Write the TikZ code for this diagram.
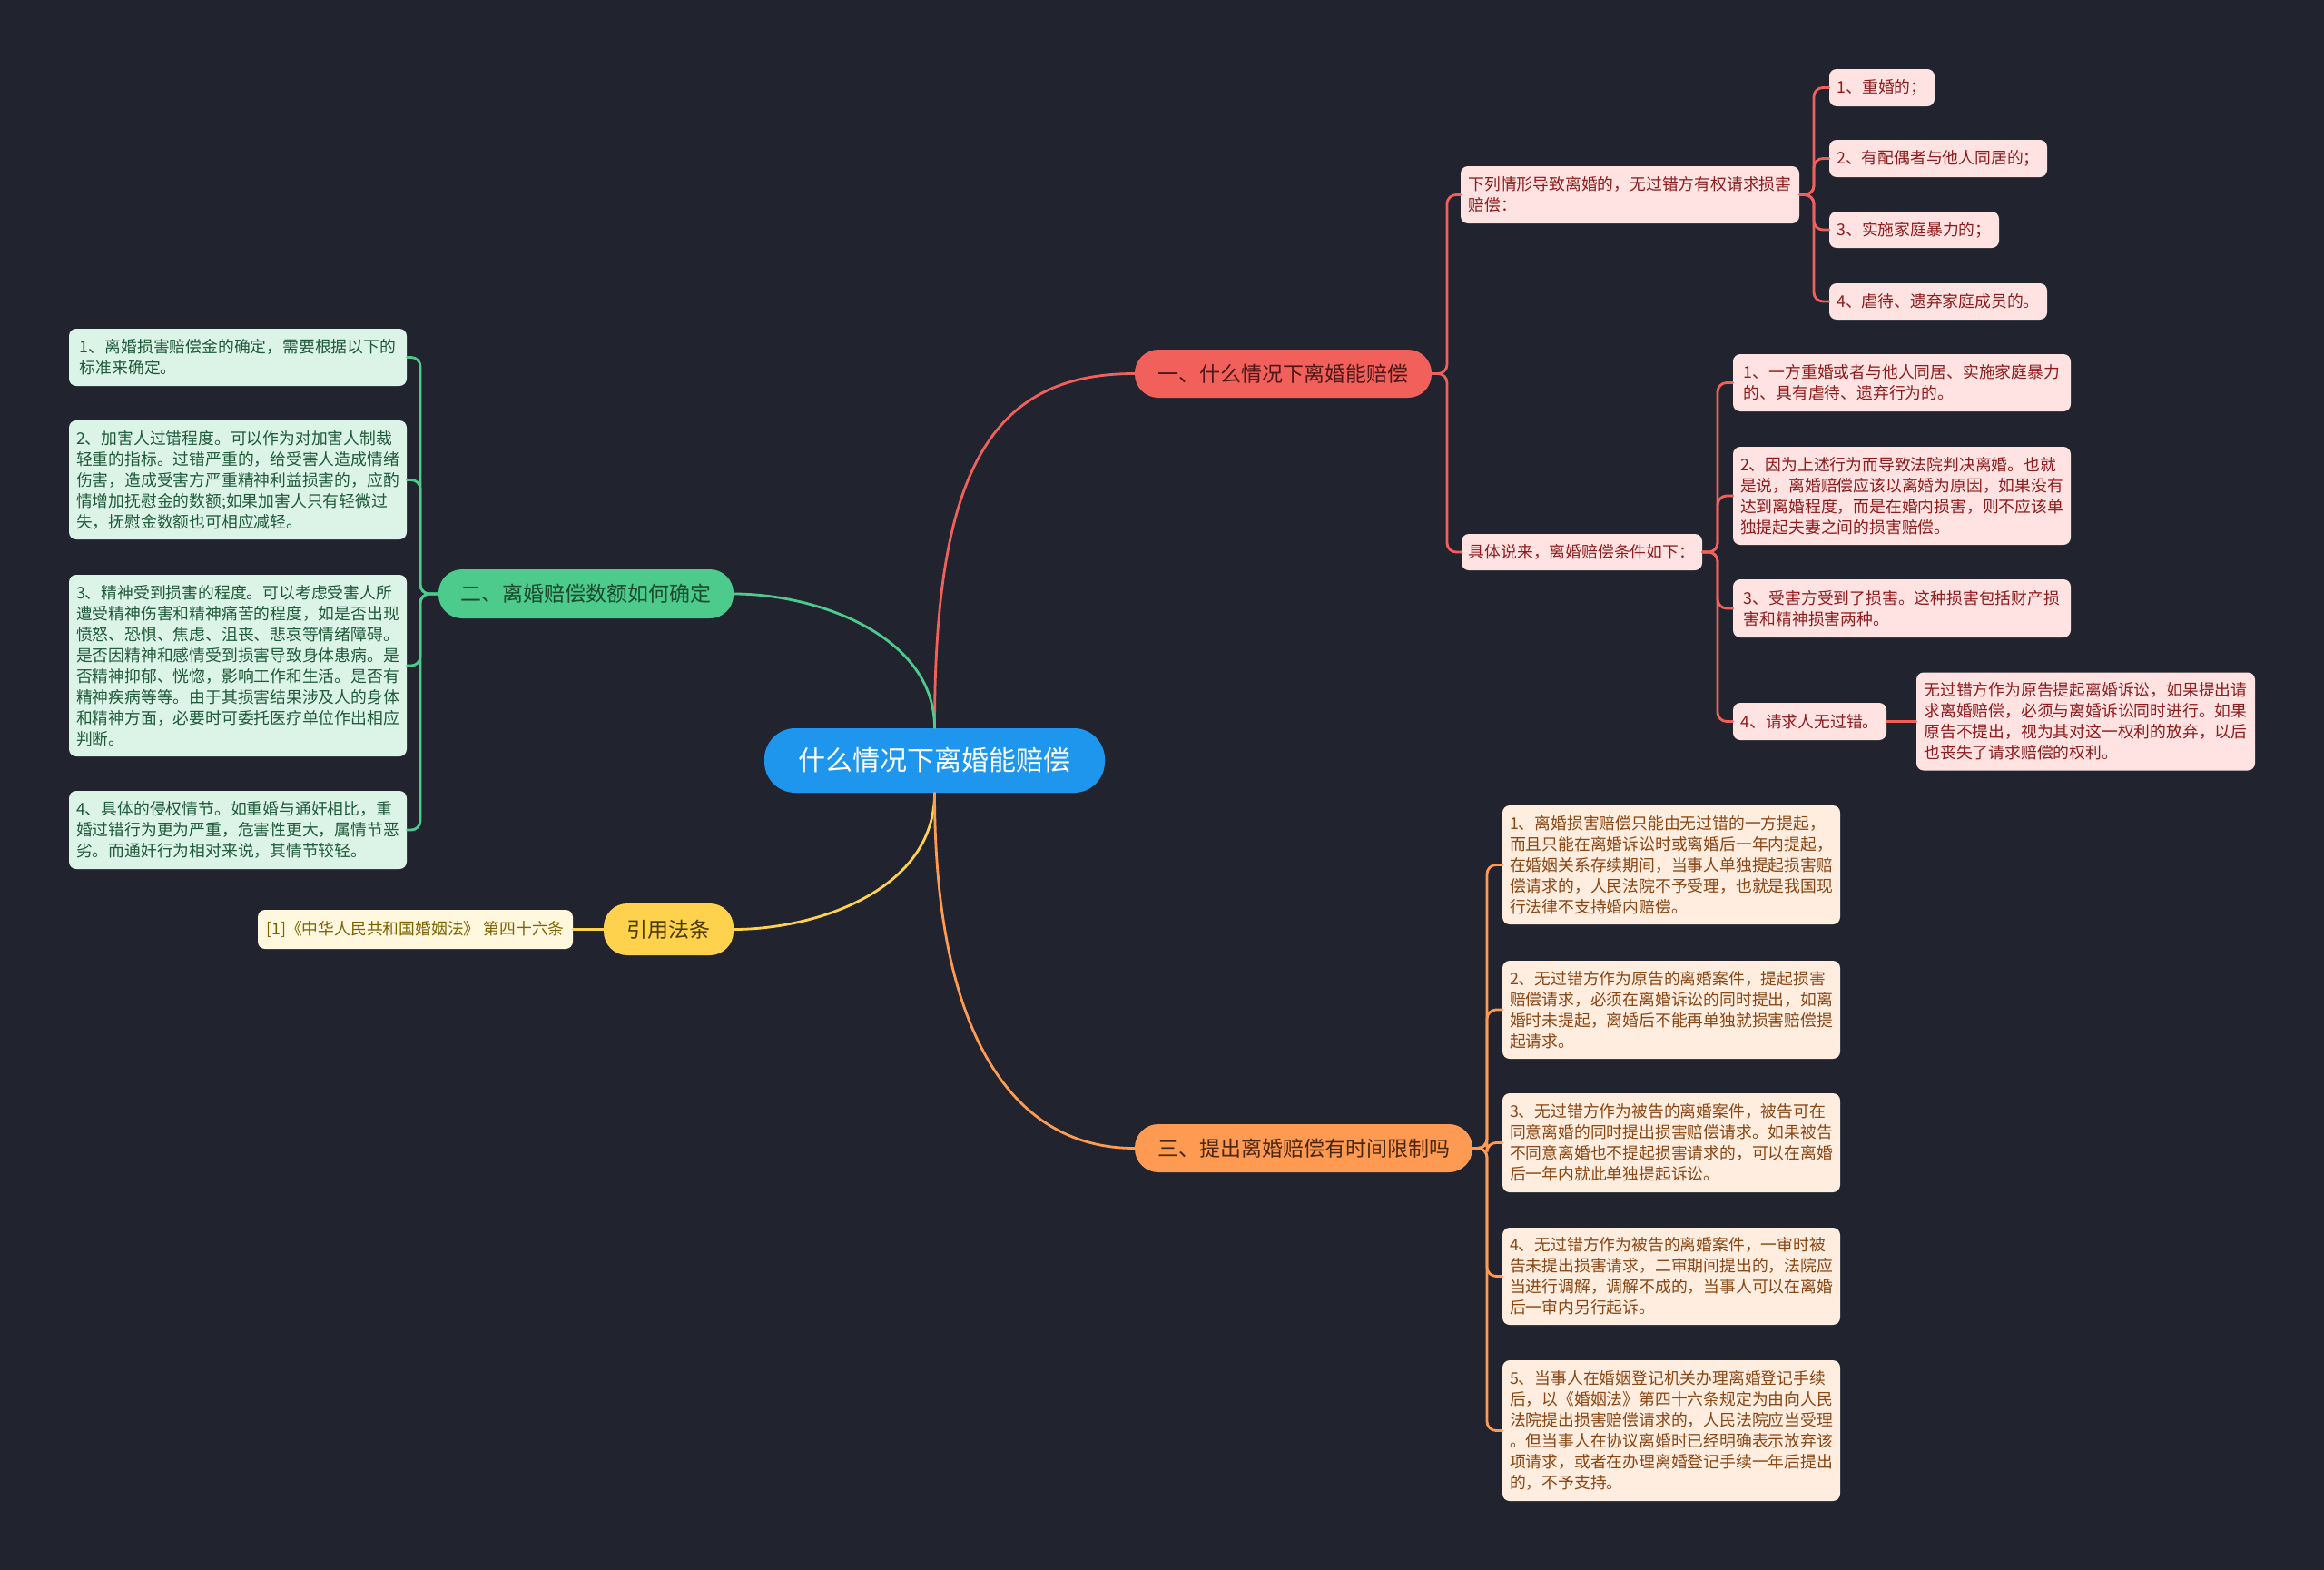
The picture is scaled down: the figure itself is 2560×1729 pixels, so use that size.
\documentclass[tikz,border=0pt]{standalone}
\usepackage{fontspec}
\setmainfont{Noto Sans CJK SC}
\definecolor{bg}{HTML}{21242E}
\definecolor{rootc}{HTML}{1E96EE}
\definecolor{redc}{HTML}{F2605C}
\definecolor{greenc}{HTML}{4CCB8C}
\definecolor{yellowc}{HTML}{FFD24D}
\definecolor{orangec}{HTML}{FF9A52}
\definecolor{redtxt}{HTML}{4F1818}
\definecolor{greentxt}{HTML}{1B4A2F}
\definecolor{yellowtxt}{HTML}{4A3A00}
\definecolor{orangetxt}{HTML}{4A2810}
\definecolor{rleaf}{HTML}{FFE3E3}
\definecolor{rleaftxt}{HTML}{8E1C1C}
\definecolor{gleaf}{HTML}{DCF4E7}
\definecolor{gleaftxt}{HTML}{1F5A39}
\definecolor{yleaf}{HTML}{FFF7DE}
\definecolor{yleaftxt}{HTML}{7C6300}
\definecolor{oleaf}{HTML}{FFEDDF}
\definecolor{oleaftxt}{HTML}{8A4614}
\begin{document}
\begin{tikzpicture}[x=0.5pt,y=-0.5pt,
  rootnode/.style={fill=rootc, text=white, rounded corners=17pt, inner sep=0pt,
    font=\fontsize{15}{18}\selectfont},
  branch/.style={rounded corners=13pt, inner sep=0pt, font=\fontsize{11.5}{14}\selectfont},
  leaf/.style={rounded corners=4pt, align=left, inner sep=0pt,
    font=\fontsize{8.9}{11.5}\selectfont},
  redleaf/.style={leaf, fill=rleaf, text=rleaftxt},
  greenleaf/.style={leaf, fill=gleaf, text=gleaftxt},
  yellowleaf/.style={leaf, fill=yleaf, text=yleaftxt},
  orangeleaf/.style={leaf, fill=oleaf, text=oleaftxt},
  conn/.style={line width=1.4pt, line cap=round},
  redline/.style={conn, draw=redc},
  greenline/.style={conn, draw=greenc},
  yellowline/.style={conn, draw=yellowc},
  orangeline/.style={conn, draw=orangec},
  bracket/.style={rounded corners=5pt}
]
\fill[bg] (0,0) rectangle (2560,1729);
\useasboundingbox (0,0) rectangle (2560,1729);

% root and branches
\node[rootnode, minimum width=187.5pt, minimum height=35.5pt] (root) at (1029.5,837.5) {什么情况下离婚能赔偿};
\node[branch, fill=redc, text=redtxt, minimum width=163.5pt, minimum height=26.5pt] (one) at (1413.5,411.5) {一、什么情况下离婚能赔偿};
\node[branch, fill=greenc, text=greentxt, minimum width=162.5pt, minimum height=27pt] (two) at (645.5,654) {二、离婚赔偿数额如何确定};
\node[branch, fill=yellowc, text=yellowtxt, minimum width=71.5pt, minimum height=28.5pt] (cite) at (736.5,1023.5) {引用法条};
\node[branch, fill=orangec, text=orangetxt, minimum width=186pt, minimum height=26.5pt] (three) at (1436,1264.5) {三、提出离婚赔偿有时间限制吗};

% red leaves
\node[redleaf, minimum width=186.5pt, minimum height=31.5pt] (r1) at (1795.5,214.5) {下列情形导致离婚的，无过错方有权请求损害\\赔偿：};
\node[redleaf, minimum width=58pt, minimum height=20.5pt] (r1a) at (2073,96.5) {1、重婚的；};
\node[redleaf, minimum width=120pt, minimum height=20.5pt] (r1b) at (2135,174.5) {2、有配偶者与他人同居的；};
\node[redleaf, minimum width=93.5pt, minimum height=20pt] (r1c) at (2108.5,253) {3、实施家庭暴力的；};
\node[redleaf, minimum width=120pt, minimum height=20pt] (r1d) at (2135,332) {4、虐待、遗弃家庭成员的。};
\node[redleaf, minimum width=132.5pt, minimum height=20pt] (r2) at (1742.5,608) {具体说来，离婚赔偿条件如下：};
\node[redleaf, minimum width=186pt, minimum height=31.5pt] (r2a) at (2095,421.5) {1、一方重婚或者与他人同居、实施家庭暴力\\的、具有虐待、遗弃行为的。};
\node[redleaf, minimum width=186pt, minimum height=54pt] (r2b) at (2095,546) {2、因为上述行为而导致法院判决离婚。也就\\是说，离婚赔偿应该以离婚为原因，如果没有\\达到离婚程度，而是在婚内损害，则不应该单\\独提起夫妻之间的损害赔偿。};
\node[redleaf, minimum width=186pt, minimum height=32pt] (r2c) at (2095,670) {3、受害方受到了损害。这种损害包括财产损\\害和精神损害两种。};
\node[redleaf, minimum width=84.5pt, minimum height=20.5pt] (r2d) at (1993.5,794.5) {4、请求人无过错。};
\node[redleaf, minimum width=186.5pt, minimum height=54pt] (r2d1) at (2297.5,794.5) {无过错方作为原告提起离婚诉讼，如果提出请\\求离婚赔偿，必须与离婚诉讼同时进行。如果\\原告不提出，视为其对这一权利的放弃，以后\\也丧失了请求赔偿的权利。};

% green leaves
\node[greenleaf, minimum width=186pt, minimum height=31.5pt] (g1) at (262,393.5) {1、离婚损害赔偿金的确定，需要根据以下的\\标准来确定。};
\node[greenleaf, minimum width=186pt, minimum height=65.5pt] (g2) at (262,528.5) {2、加害人过错程度。可以作为对加害人制裁\\轻重的指标。过错严重的，给受害人造成情绪\\伤害，造成受害方严重精神利益损害的，应酌\\情增加抚慰金的数额;如果加害人只有轻微过\\失，抚慰金数额也可相应减轻。};
\node[greenleaf, minimum width=186pt, minimum height=100pt] (g3) at (262,733) {3、精神受到损害的程度。可以考虑受害人所\\遭受精神伤害和精神痛苦的程度，如是否出现\\愤怒、恐惧、焦虑、沮丧、悲哀等情绪障碍。\\是否因精神和感情受到损害导致身体患病。是\\否精神抑郁、恍惚，影响工作和生活。是否有\\精神疾病等等。由于其损害结果涉及人的身体\\和精神方面，必要时可委托医疗单位作出相应\\判断。};
\node[greenleaf, minimum width=186pt, minimum height=43pt] (g4) at (262,914) {4、具体的侵权情节。如重婚与通奸相比，重\\婚过错行为更为严重，危害性更大，属情节恶\\劣。而通奸行为相对来说，其情节较轻。};

% yellow leaf
\node[yellowleaf, minimum width=173.5pt, minimum height=21.5pt] (c1) at (457.5,1023.5) {[1]《中华人民共和国婚姻法》 第四十六条};

% orange leaves
\node[orangeleaf, minimum width=186pt, minimum height=65.5pt] (o1) at (1841,952.5) {1、离婚损害赔偿只能由无过错的一方提起，\\而且只能在离婚诉讼时或离婚后一年内提起，\\在婚姻关系存续期间，当事人单独提起损害赔\\偿请求的，人民法院不予受理，也就是我国现\\行法律不支持婚内赔偿。};
\node[orangeleaf, minimum width=186pt, minimum height=54pt] (o2) at (1841,1112) {2、无过错方作为原告的离婚案件，提起损害\\赔偿请求，必须在离婚诉讼的同时提出，如离\\婚时未提起，离婚后不能再单独就损害赔偿提\\起请求。};
\node[orangeleaf, minimum width=186pt, minimum height=54.5pt] (o3) at (1841,1258.5) {3、无过错方作为被告的离婚案件，被告可在\\同意离婚的同时提出损害赔偿请求。如果被告\\不同意离婚也不提起损害请求的，可以在离婚\\后一年内就此单独提起诉讼。};
\node[orangeleaf, minimum width=186pt, minimum height=53.5pt] (o4) at (1841,1405.5) {4、无过错方作为被告的离婚案件，一审时被\\告未提出损害请求，二审期间提出的，法院应\\当进行调解，调解不成的，当事人可以在离婚\\后一审内另行起诉。};
\node[orangeleaf, minimum width=186pt, minimum height=77.5pt] (o5) at (1841,1575.5) {5、当事人在婚姻登记机关办理离婚登记手续\\后，以《婚姻法》第四十六条规定为由向人民\\法院提出损害赔偿请求的，人民法院应当受理\\。但当事人在协议离婚时已经明确表示放弃该\\项请求，或者在办理离婚登记手续一年后提出\\的，不予支持。};

% root connectors
\draw[redline] (root.north) .. controls (1029.5,520) and (1090,411.5) .. (one.west);
\draw[greenline] (root.north) .. controls (1029.5,700) and (900,654) .. (two.east);
\draw[yellowline] (root.south) .. controls (1029.5,980) and (900,1023.5) .. (cite.east);
\draw[orangeline] (root.south) .. controls (1029.5,1130) and (1110,1264.5) .. (three.west);

% red brackets
\foreach \c in {r1,r2}
  \draw[redline, bracket] (one.east) -- (1594,411.5) |- (\c.west);
\foreach \c in {r1a,r1b,r1c,r1d}
  \draw[redline, bracket] (r1.east) -- (1998,214.5) |- (\c.west);
\foreach \c in {r2a,r2b,r2c,r2d}
  \draw[redline, bracket] (r2.east) -- (1892,608) |- (\c.west);
\draw[redline] (r2d.east) -- (r2d1.west);

% green brackets
\foreach \c in {g1,g2,g3,g4}
  \draw[greenline, bracket] (two.west) -- (463,654) |- (\c.east);

% yellow
\draw[yellowline] (cite.west) -- (c1.east);

% orange brackets
\foreach \c in {o1,o2,o3,o4,o5}
  \draw[orangeline, bracket] (three.east) -- (1638,1264.5) |- (\c.west);
\end{tikzpicture}
\end{document}
